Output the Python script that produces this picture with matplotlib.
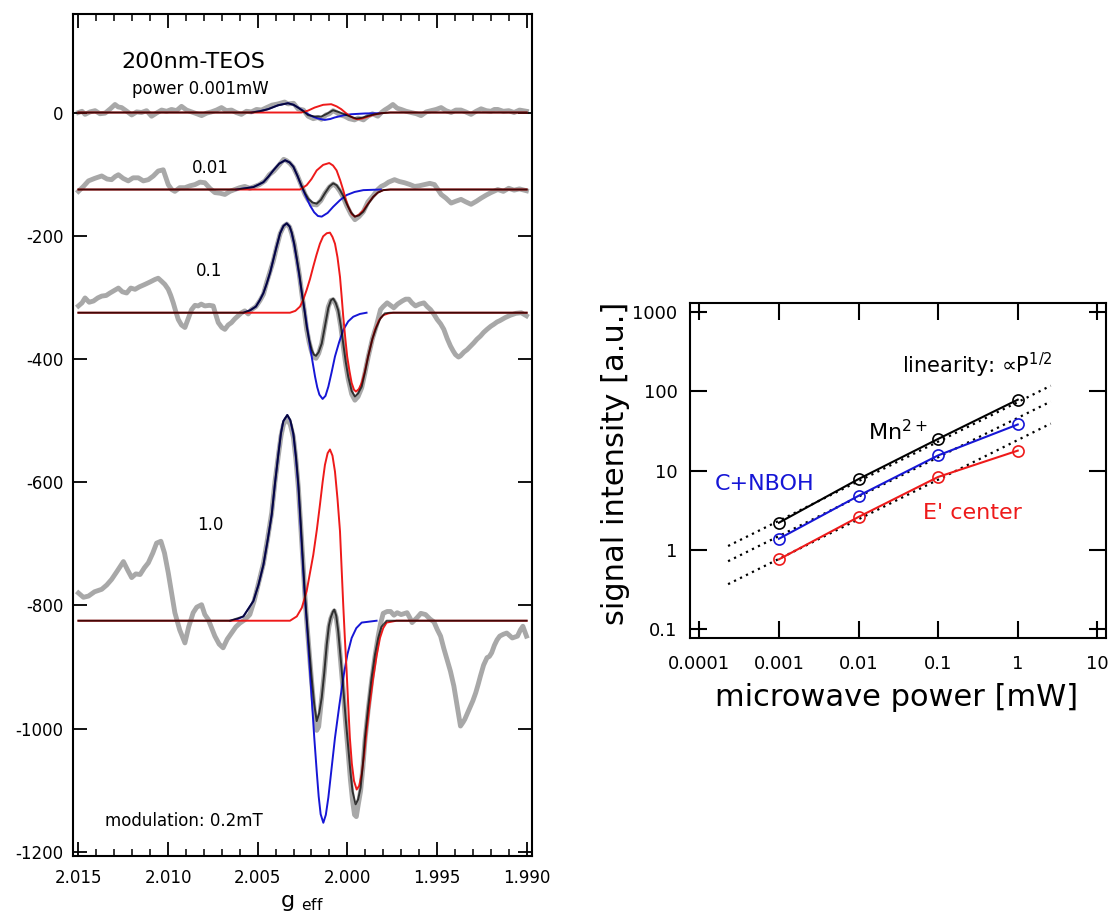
import numpy as np
import matplotlib
matplotlib.use('Agg')
import matplotlib.pyplot as plt
from matplotlib.ticker import FixedLocator, NullLocator

plt.rcParams['font.family'] = ['DejaVu Sans']
plt.rcParams['axes.unicode_minus'] = False

# ---------------- left panel: ESR spectra (values relative to each baseline) ----------------
offsets = [0, -125, -325, -825]
power_labels = ['power 0.001mW', '0.01', '0.1', '1.0']

# 0.001 mW
g_exp_1 = [2.01500, 2.01480, 2.01463, 2.01435, 2.01407, 2.01380, 2.01351, 2.01322, 2.01296, 2.01278,
           2.01259, 2.01230, 2.01203, 2.01175, 2.01148, 2.01120, 2.01092, 2.01065, 2.01036, 2.01008,
           2.00981, 2.00953, 2.00925, 2.00897, 2.00869, 2.00840, 2.00813, 2.00785, 2.00758, 2.00730,
           2.00702, 2.00675, 2.00646, 2.00620, 2.00591, 2.00563, 2.00535, 2.00507, 2.00479, 2.00450,
           2.00420, 2.00386, 2.00350, 2.00331, 2.00300, 2.00275, 2.00245, 2.00219, 2.00190, 2.00164,
           2.00145, 2.00120, 2.00100, 2.00080, 2.00060, 2.00040, 2.00015, 1.99990, 1.99960, 1.99940,
           1.99910, 1.99885, 1.99860, 1.99830, 1.99810, 1.99792, 1.99770, 1.99746, 1.99722, 1.99700,
           1.99672, 1.99644, 1.99615, 1.99589, 1.99560, 1.99533, 1.99505, 1.99477, 1.99450, 1.99421,
           1.99395, 1.99366, 1.99340, 1.99310, 1.99282, 1.99254, 1.99225, 1.99199, 1.99180, 1.99161,
           1.99130, 1.99100, 1.99070, 1.99040, 1.99001]
exp_1 = [0, 2, -3, 1, 3, -2, -1, 6, 13, 9,
         8, 2, -4, 1, 0, 3, -6, -1, 4, 2,
         5, 3, 10, 4, 1, -2, -5, -1, 1, 4,
         8, 3, 4, 0, -3, 2, 1, 5, 4, 8,
         12, 14, 17, 14, 15, 6, 4, -6, -10, -8,
         -11, -4, -2, 3, 0, -4, -6, -10, -12, -9,
         -12, -6, -2, -6, 0, 4, 8, 13, 7, 5,
         2, 0, -2, -5, 1, 3, 5, 8, 3, 0,
         4, 4, 1, -3, 2, 6, 3, 2, 5, 5,
         2, 3, 0, 4, 2]
g_blue_1 = [2.00535, 2.00490, 2.00442, 2.00386, 2.00331, 2.00300, 2.00275, 2.00245, 2.00219, 2.00190,
            2.00164, 2.00126, 2.00095, 2.00071, 2.00020, 1.99978, 1.99900, 1.99811]
blue_1 = [0, 2, 5.4, 11.8, 15.1, 12.5, 8.1, 2.5, -2.8, -7,
          -9.7, -12, -10.5, -8.1, -4.5, -2.8, -1.5, -1.1]
g_red_1 = [2.01500, 2.00257, 2.00220, 2.00182, 2.00135, 2.00090, 2.00060, 2.00034, 2.00010, 1.99987,
           1.99962, 1.99941, 1.99915, 1.99885, 1.99850, 1.99811, 1.99760, 1.99000]
red_1 = [0, 0, 3, 8.1, 12.5, 13.5, 10, 5.4, -0.5, -5.4,
         -9.5, -10.9, -9.5, -6.5, -3.5, -1.1, 0, 0]
g_sum_1 = [2.01500, 2.00535, 2.00490, 2.00442, 2.00386, 2.00331, 2.00300, 2.00275, 2.00245, 2.00219,
           2.00180, 2.00145, 2.00110, 2.00080, 2.00050, 2.00015, 1.99980, 1.99950, 1.99920, 1.99885,
           1.99850, 1.99811, 1.99760, 1.99000]
sum_1 = [0, 0, 2, 5.4, 11.8, 15.1, 12.5, 8, 2, -4.3,
         -6.5, -6.5, -1.5, 3.7, 1, -2.8, -7, -9.7, -8.5, -5.4,
         -3, -1.1, 0, 0]

# 0.01 mW
g_exp_2 = [2.01500, 2.01472, 2.01444, 2.01410, 2.01370, 2.01340, 2.01315, 2.01295, 2.01277, 2.01250,
           2.01222, 2.01195, 2.01166, 2.01138, 2.01110, 2.01082, 2.01055, 2.01027, 2.00999, 2.00980,
           2.00962, 2.00935, 2.00906, 2.00878, 2.00850, 2.00822, 2.00795, 2.00767, 2.00739, 2.00710,
           2.00683, 2.00655, 2.00628, 2.00600, 2.00572, 2.00544, 2.00516, 2.00490, 2.00460, 2.00435,
           2.00410, 2.00380, 2.00355, 2.00340, 2.00322, 2.00301, 2.00278, 2.00254, 2.00236, 2.00218,
           2.00195, 2.00171, 2.00148, 2.00125, 2.00100, 2.00079, 2.00060, 2.00041, 2.00022, 2.00004,
           1.99980, 1.99958, 1.99935, 1.99911, 1.99885, 1.99856, 1.99830, 1.99811, 1.99790, 1.99770,
           1.99737, 1.99710, 1.99681, 1.99650, 1.99625, 1.99600, 1.99570, 1.99540, 1.99514, 1.99495,
           1.99477, 1.99450, 1.99421, 1.99395, 1.99366, 1.99340, 1.99310, 1.99280, 1.99254, 1.99225,
           1.99199, 1.99161, 1.99130, 1.99100, 1.99070, 1.99040, 1.99001]
exp_2 = [-3, 5, 14, 18, 22, 17, 16, 21, 24, 18,
         14, 19, 19, 14, 16, 22, 30, 32, 8, 0,
         -3, 3, 3, 6, 8, 12, 11, 2, -5, -6,
         -8, -3, 0, 3, 5, 2, 5, 8, 14, 24,
         30, 40, 49, 47, 43, 36, 22, 5, -8, -17,
         -24, -25, -18, -6, 4, 9, 5, -3, -13, -26,
         -40, -49, -44, -36, -20, -10, 0, 5, 8, 12,
         16, 13, 11, 8, 5, 6, 8, 10, 8, 0,
         -8, -14, -22, -19, -16, -20, -24, -19, -14, -9,
         -5, 0, -3, 2, -1, 1, -2]
g_blue_2 = [2.00620, 2.00570, 2.00524, 2.00495, 2.00468, 2.00440, 2.00413, 2.00380, 2.00347, 2.00322,
            2.00301, 2.00278, 2.00254, 2.00230, 2.00208, 2.00185, 2.00164, 2.00143, 2.00110, 2.00079,
            2.00040, 2.00004, 1.99960, 1.99911, 1.99813]
blue_2 = [0, 2, 4, 8, 12, 21, 31, 42, 47.5, 44,
          37, 22, 4, -12, -26, -37, -43, -44, -38, -28,
          -17, -9, -4, -1, 0]
g_red_2 = [2.01500, 2.00264, 2.00227, 2.00200, 2.00171, 2.00135, 2.00101, 2.00080, 2.00060, 2.00040,
           2.00023, 2.00008, 1.99995, 1.99975, 1.99958, 1.99935, 1.99911, 1.99885, 1.99856, 1.99830,
           1.99800, 1.99760, 1.99000]
red_2 = [0, 0, 7, 17, 31, 40, 43, 39, 31, 15,
         -1, -17, -28, -40, -44, -41, -34, -23, -12, -5,
         -1, 0, 0]
g_sum_2 = [2.01500, 2.00620, 2.00570, 2.00524, 2.00495, 2.00468, 2.00440, 2.00413, 2.00380, 2.00347,
           2.00322, 2.00301, 2.00278, 2.00254, 2.00236, 2.00218, 2.00195, 2.00171, 2.00148, 2.00125,
           2.00100, 2.00079, 2.00060, 2.00041, 2.00022, 2.00004, 1.99980, 1.99958, 1.99935, 1.99911,
           1.99885, 1.99856, 1.99830, 1.99800, 1.99760, 1.99000]
sum_2 = [0, 0, 2, 4, 8, 12, 21, 31, 42, 47.5,
         44, 37, 22, 5, -6, -15, -21, -23, -17, -6,
         5, 10, 7, -1, -11, -23, -37, -44, -42, -36,
         -24, -12, -5, -1, 0, 0]

# 0.1 mW
g_exp_3 = [2.01500, 2.01480, 2.01463, 2.01440, 2.01416, 2.01392, 2.01370, 2.01345, 2.01324, 2.01300,
           2.01277, 2.01255, 2.01231, 2.01208, 2.01184, 2.01160, 2.01129, 2.01100, 2.01073, 2.01055,
           2.01036, 2.01018, 2.00999, 2.00985, 2.00971, 2.00957, 2.00943, 2.00925, 2.00906, 2.00888,
           2.00869, 2.00850, 2.00832, 2.00815, 2.00795, 2.00770, 2.00748, 2.00735, 2.00720, 2.00700,
           2.00683, 2.00665, 2.00646, 2.00628, 2.00609, 2.00590, 2.00572, 2.00553, 2.00535, 2.00510,
           2.00487, 2.00468, 2.00449, 2.00430, 2.00413, 2.00395, 2.00375, 2.00356, 2.00338, 2.00322,
           2.00310, 2.00296, 2.00282, 2.00268, 2.00254, 2.00240, 2.00227, 2.00213, 2.00199, 2.00187,
           2.00175, 2.00160, 2.00143, 2.00125, 2.00106, 2.00092, 2.00079, 2.00065, 2.00051, 2.00037,
           2.00023, 2.00009, 1.99995, 1.99976, 1.99958, 1.99940, 1.99920, 1.99902, 1.99884, 1.99860,
           1.99837, 1.99815, 1.99800, 1.99778, 1.99760, 1.99741, 1.99720, 1.99694, 1.99675, 1.99657,
           1.99640, 1.99620, 1.99598, 1.99573, 1.99555, 1.99536, 1.99518, 1.99499, 1.99480, 1.99462,
           1.99443, 1.99425, 1.99410, 1.99397, 1.99380, 1.99369, 1.99350, 1.99332, 1.99315, 1.99295,
           1.99277, 1.99258, 1.99240, 1.99221, 1.99200, 1.99184, 1.99165, 1.99150, 1.99120, 1.99090,
           1.99060, 1.99030, 1.99001]
exp_3 = [11, 16, 24, 17, 19, 24, 27, 28, 32, 36,
         40, 34, 32, 40, 38, 42, 46, 50, 54, 56,
         51, 46, 38, 28, 16, 2, -11, -20, -24, -10,
         5, 12, 11, 14, 11, 12, 11, -2, -16, -24,
         -27, -20, -16, -10, -5, 0, 3, -2, 5, 10,
         20, 30, 50, 68, 84, 106, 128, 140, 144, 139,
         128, 112, 88, 62, 31, 3, -27, -48, -64, -72,
         -74, -66, -50, -20, 10, 20, 21, 14, 2, -22,
         -54, -84, -108, -132, -142, -136, -122, -98, -72, -42,
         -20, 5, 10, 16, 12, 8, 14, 19, 22, 22,
         16, 11, 14, 16, 10, 5, -2, -11, -18, -27,
         -42, -54, -62, -68, -72, -70, -64, -60, -55, -49,
         -43, -38, -32, -27, -22, -19, -15, -13, -8, -4,
         -1, 0, -5]
g_blue_3 = [2.00580, 2.00542, 2.00510, 2.00487, 2.00468, 2.00449, 2.00430, 2.00413, 2.00395, 2.00375,
            2.00356, 2.00338, 2.00322, 2.00310, 2.00296, 2.00282, 2.00268, 2.00254, 2.00245, 2.00236,
            2.00222, 2.00208, 2.00194, 2.00180, 2.00168, 2.00156, 2.00138, 2.00122, 2.00106, 2.00088,
            2.00069, 2.00046, 2.00023, 1.99995, 1.99967, 1.99930, 1.99893]
blue_3 = [0, 4, 10, 21, 32, 48, 66, 86, 107, 129,
          141, 145, 140, 129, 110, 86, 60, 32, 15, -1,
          -28, -55, -80, -104, -121, -133, -140, -135, -120, -97,
          -71, -48, -28, -14, -6.5, -2, 0]
g_red_3 = [2.01500, 2.00320, 2.00290, 2.00264, 2.00245, 2.00227, 2.00208, 2.00190, 2.00172, 2.00153,
           2.00135, 2.00115, 2.00097, 2.00083, 2.00069, 2.00055, 2.00041, 2.00032, 2.00023, 2.00012,
           2.00001, 1.99988, 1.99976, 1.99963, 1.99952, 1.99936, 1.99920, 1.99902, 1.99884, 1.99865,
           1.99846, 1.99823, 1.99800, 1.99770, 1.99744, 1.99000]
red_3 = [0, 0, 3, 10, 22, 37, 55, 75, 94, 112,
         124, 129, 130, 123, 112, 90, 58, 27, -6, -40,
         -71, -95, -114, -125, -128, -124, -114, -95, -71, -48,
         -28, -12, -4, -1, 0, 0]
g_sum_3 = [2.01500, 2.00580, 2.00542, 2.00510, 2.00487, 2.00468, 2.00449, 2.00430, 2.00413, 2.00395,
           2.00375, 2.00356, 2.00338, 2.00322, 2.00310, 2.00296, 2.00282, 2.00268, 2.00254, 2.00240,
           2.00227, 2.00213, 2.00199, 2.00187, 2.00175, 2.00160, 2.00143, 2.00125, 2.00106, 2.00092,
           2.00079, 2.00065, 2.00051, 2.00037, 2.00023, 2.00009, 1.99995, 1.99976, 1.99958, 1.99940,
           1.99920, 1.99902, 1.99884, 1.99860, 1.99837, 1.99815, 1.99791, 1.99760, 1.99000]
sum_3 = [0, 0, 4, 10, 21, 32, 48, 66, 86, 107,
         129, 141, 145, 140, 130, 112, 88, 63, 33, 6,
         -23, -44, -60, -68, -70, -64, -50, -22, 8, 20,
         23, 16, 4, -20, -50, -80, -104, -127, -136, -131,
         -120, -97, -71, -42, -23, -9, -1, 0, 0]

# 1.0 mW
g_exp_4 = [2.01500, 2.01472, 2.01444, 2.01410, 2.01370, 2.01342, 2.01315, 2.01285, 2.01249, 2.01225,
           2.01203, 2.01180, 2.01156, 2.01132, 2.01110, 2.01085, 2.01064, 2.01040, 2.01020, 2.00999,
           2.00980, 2.00962, 2.00935, 2.00906, 2.00885, 2.00860, 2.00840, 2.00813, 2.00795, 2.00776,
           2.00757, 2.00739, 2.00715, 2.00693, 2.00670, 2.00646, 2.00622, 2.00600, 2.00570, 2.00544,
           2.00520, 2.00496, 2.00468, 2.00445, 2.00422, 2.00404, 2.00385, 2.00370, 2.00357, 2.00340,
           2.00330, 2.00318, 2.00301, 2.00287, 2.00273, 2.00260, 2.00246, 2.00237, 2.00227, 2.00213,
           2.00199, 2.00185, 2.00171, 2.00160, 2.00150, 2.00143, 2.00129, 2.00115, 2.00103, 2.00093,
           2.00080, 2.00073, 2.00062, 2.00051, 2.00037, 2.00023, 2.00009, 1.99995, 1.99983, 1.99971,
           1.99960, 1.99950, 1.99940, 1.99926, 1.99914, 1.99902, 1.99884, 1.99865, 1.99846, 1.99828,
           1.99815, 1.99800, 1.99778, 1.99759, 1.99740, 1.99722, 1.99700, 1.99667, 1.99650, 1.99639,
           1.99611, 1.99590, 1.99564, 1.99540, 1.99517, 1.99499, 1.99480, 1.99462, 1.99444, 1.99425,
           1.99406, 1.99388, 1.99369, 1.99355, 1.99345, 1.99330, 1.99313, 1.99300, 1.99284, 1.99270,
           1.99258, 1.99240, 1.99221, 1.99208, 1.99195, 1.99180, 1.99165, 1.99150, 1.99130, 1.99111,
           1.99080, 1.99051, 1.99035, 1.99021, 1.99010, 1.99001]
exp_4 = [45, 38, 40, 47, 51, 58, 67, 80, 96, 82,
         70, 76, 75, 86, 94, 110, 126, 129, 110, 78,
         45, 13, -15, -36, -10, 13, 22, 26, 10, 2,
         -12, -25, -38, -44, -30, -20, -10, -4, 2, 10,
         32, 60, 93, 133, 175, 225, 268, 300, 318, 328,
         325, 318, 298, 262, 215, 155, 88, 42, 0, -50,
         -100, -145, -178, -172, -145, -125, -85, -39, -10, 3,
         13, 16, 5, -20, -68, -115, -168, -215, -258, -292,
         -315, -318, -300, -276, -240, -195, -145, -98, -58, -25,
         -5, 12, 15, 15, 9, 13, 10, 13, 4, -3,
         5, 12, 10, 3, -2, -14, -25, -45, -63, -82,
         -106, -138, -171, -165, -160, -150, -139, -130, -117, -103,
         -90, -72, -60, -58, -52, -40, -31, -25, -22, -20,
         -28, -25, -15, -9, -18, -25]
g_blue_4 = [2.00654, 2.00610, 2.00580, 2.00524, 2.00496, 2.00468, 2.00445, 2.00422, 2.00404, 2.00385,
            2.00370, 2.00357, 2.00335, 2.00318, 2.00301, 2.00287, 2.00273, 2.00260, 2.00246, 2.00237,
            2.00227, 2.00213, 2.00199, 2.00185, 2.00171, 2.00160, 2.00149, 2.00134, 2.00120, 2.00106,
            2.00090, 2.00069, 2.00045, 2.00023, 2.00000, 1.99976, 1.99950, 1.99920, 1.99837]
blue_4 = [0, 3, 7, 32, 58, 91, 130, 172, 222, 270,
          305, 324, 334, 325, 302, 265, 216, 150, 80, 38,
          0, -62, -125, -188, -244, -285, -314, -328, -315, -287,
          -245, -190, -138, -93, -55, -28, -12, -3, 0]
g_red_4 = [2.01500, 2.00320, 2.00282, 2.00254, 2.00227, 2.00190, 2.00170, 2.00153, 2.00138, 2.00125,
           2.00110, 2.00097, 2.00083, 2.00069, 2.00055, 2.00041, 2.00032, 2.00023, 2.00014, 2.00004,
           1.99995, 1.99986, 1.99975, 1.99963, 1.99948, 1.99934, 1.99920, 1.99906, 1.99893, 1.99875,
           1.99856, 1.99837, 1.99818, 1.99800, 1.99781, 1.99726, 1.99000]
red_4 = [0, 0, 7, 21, 48, 107, 148, 188, 225, 253,
         272, 278, 268, 242, 198, 145, 85, 26, -28, -82,
         -138, -190, -232, -260, -274, -268, -249, -217, -179, -135,
         -93, -57, -28, -12, -3, 0, 0]
g_sum_4 = [2.01500, 2.00654, 2.00580, 2.00524, 2.00496, 2.00468, 2.00445, 2.00422, 2.00404, 2.00385,
           2.00370, 2.00357, 2.00335, 2.00318, 2.00301, 2.00287, 2.00273, 2.00260, 2.00246, 2.00237,
           2.00227, 2.00213, 2.00199, 2.00185, 2.00171, 2.00157, 2.00143, 2.00129, 2.00115, 2.00103,
           2.00093, 2.00080, 2.00073, 2.00062, 2.00051, 2.00037, 2.00023, 2.00009, 1.99995, 1.99983,
           1.99971, 1.99954, 1.99940, 1.99926, 1.99914, 1.99902, 1.99884, 1.99865, 1.99846, 1.99828,
           1.99810, 1.99781, 1.99000]
sum_4 = [0, 0, 7, 32, 58, 91, 130, 172, 222, 270,
         305, 324, 334, 326, 304, 268, 222, 160, 90, 45,
         5, -45, -93, -135, -163, -150, -125, -85, -39, -8,
         5, 15, 18, 8, -17, -62, -109, -160, -206, -245,
         -277, -298, -290, -271, -235, -190, -140, -93, -55, -28,
         -10, 0, 0]

g_exp = [g_exp_1, g_exp_2, g_exp_3, g_exp_4]
exp_rel = [exp_1, exp_2, exp_3, exp_4]
g_blue = [g_blue_1, g_blue_2, g_blue_3, g_blue_4]
blue_rel = [blue_1, blue_2, blue_3, blue_4]
g_red = [g_red_1, g_red_2, g_red_3, g_red_4]
red_rel = [red_1, red_2, red_3, red_4]
g_sum = [g_sum_1, g_sum_2, g_sum_3, g_sum_4]
sum_rel = [sum_1, sum_2, sum_3, sum_4]

g_ticks = [2.015, 2.010, 2.005, 2.000, 1.995, 1.990]
g_ticklabels = ['2.015', '2.010', '2.005', '2.000', '1.995', '1.990']
esr_ticks = [0, -200, -400, -600, -800, -1000, -1200]

# ---------------- right panel: power saturation ----------------
power = [0.001, 0.01, 0.1, 1]
mn_signal = [2.2, 7.8, 25, 78]
nboh_signal = [1.38, 4.8, 15.5, 38]
eprime_signal = [0.76, 2.6, 8.3, 17.8]
p_sqrt = [2.3e-4, 2.6]
mn_sqrt = [1.12, 117]
nboh_sqrt = [0.72, 74]
eprime_sqrt = [0.37, 39]
p_ticks = [1e-4, 1e-3, 1e-2, 1e-1, 1, 10]
p_ticklabels = ['0.0001', '0.001', '0.01', '0.1', '1', '10']
i_ticks = [0.1, 1, 10, 100, 1000]
i_ticklabels = ['0.1', '1', '10', '100', '1000']

BLUE = '#1616d6'
RED = '#ee1a1a'
GRAY = '#a8a8a8'

fig = plt.figure(figsize=(11.1, 9.18), dpi=100)

# left panel
ax = fig.add_axes([0.0658, 0.0675, 0.4135, 0.9173])
for k in range(4):
    off = offsets[k]
    ax.plot(g_exp[k], np.array(exp_rel[k]) + off, color=GRAY, lw=3.5, solid_joinstyle='round', zorder=1)
    ax.plot(g_blue[k], np.array(blue_rel[k]) + off, color=BLUE, lw=1.4, zorder=2)
    ax.plot(g_red[k], np.array(red_rel[k]) + off, color=RED, lw=1.4, zorder=3)
    # black fit drawn semi-transparent: dark grey alone, dark red / navy where it overlaps
    ax.plot(g_sum[k], np.array(sum_rel[k]) + off, color='black', lw=1.4, alpha=0.72, zorder=4)

ax.set_xlim(2.0153, 1.9897)
ax.set_ylim(-1207, 160)
ax.xaxis.set_major_locator(FixedLocator(g_ticks))
ax.set_xticklabels(g_ticklabels)
ax.xaxis.set_minor_locator(FixedLocator(np.arange(1.990, 2.0155, 0.001)))
ax.set_yticks(esr_ticks)
ax.set_yticklabels([str(v) for v in esr_ticks])
ax.tick_params(which='both', direction='in', top=True, right=True, labelsize=12)
ax.tick_params(which='major', length=10, width=1.3)
ax.tick_params(which='minor', length=5, width=1.1)
ax.tick_params(axis='y', pad=7)
ax.tick_params(axis='x', pad=9)
for s in ax.spines.values():
    s.set_linewidth(1.5)
ax.set_xlabel(r'g $_{\mathrm{eff}}$', fontsize=16, va='top')
ax.xaxis.set_label_coords(0.5, -0.044)

ax.text(2.01261, 82, '200nm-TEOS', fontsize=16, ha='left', va='center')
ax.text(2.01199, 37.5, power_labels[0], fontsize=12, ha='left', va='center')
ax.text(2.00762, -90.6, power_labels[1], fontsize=12, ha='center', va='center')
ax.text(2.00772, -258, power_labels[2], fontsize=12, ha='center', va='center')
ax.text(2.00762, -669, power_labels[3], fontsize=12, ha='center', va='center')
ax.text(2.01351, -1150, 'modulation: 0.2mT', fontsize=12, ha='left', va='center')

# right panel
bx = fig.add_axes([0.6216, 0.305, 0.3748, 0.3649])
bx.set_xscale('log')
bx.set_yscale('log')
for fit in (mn_sqrt, nboh_sqrt, eprime_sqrt):
    bx.plot(p_sqrt, fit, color='black', lw=1.6, ls=(0, (1, 2)), zorder=2)
for sig, col in ((mn_signal, 'black'), (nboh_signal, BLUE), (eprime_signal, RED)):
    bx.plot(power, sig, color=col, lw=1.5, marker='o', ms=8, mfc='none', mec=col, mew=1.2, zorder=3)

bx.set_xlim(10 ** -4.117, 10 ** 1.109)
bx.set_ylim(10 ** -1.11, 10 ** 3.11)
bx.xaxis.set_major_locator(FixedLocator(p_ticks))
bx.set_xticklabels(p_ticklabels)
bx.yaxis.set_major_locator(FixedLocator(i_ticks))
bx.set_yticklabels(i_ticklabels)
bx.xaxis.set_minor_locator(NullLocator())
bx.yaxis.set_minor_locator(NullLocator())
bx.tick_params(which='major', direction='in', top=True, right=True, length=12, width=1.5, labelsize=13)
bx.tick_params(axis='y', pad=9)
bx.tick_params(axis='x', pad=12)
for s in bx.spines.values():
    s.set_linewidth(1.5)
bx.set_xlabel('microwave power [mW]', fontsize=22, va='center')
bx.xaxis.set_label_coords(0.496, -0.179)
bx.set_ylabel('signal intensity [a.u.]', fontsize=22, va='center')
bx.yaxis.set_label_coords(-0.178, 0.52)

bx.text(0.0349, 167, 'linearity: \u221dP$^{1/2}$', fontsize=15, ha='left', va='baseline')
bx.text(0.01315, 24.2, r'Mn$^{2+}$', fontsize=16, ha='left', va='baseline')
bx.text(1.574e-4, 6.7, 'C+NBOH', fontsize=16, color=BLUE, ha='left', va='center')
bx.text(0.0646, 2.94, "E' center", fontsize=16, color=RED, ha='left', va='center')

fig.savefig('out.png', dpi=100)
